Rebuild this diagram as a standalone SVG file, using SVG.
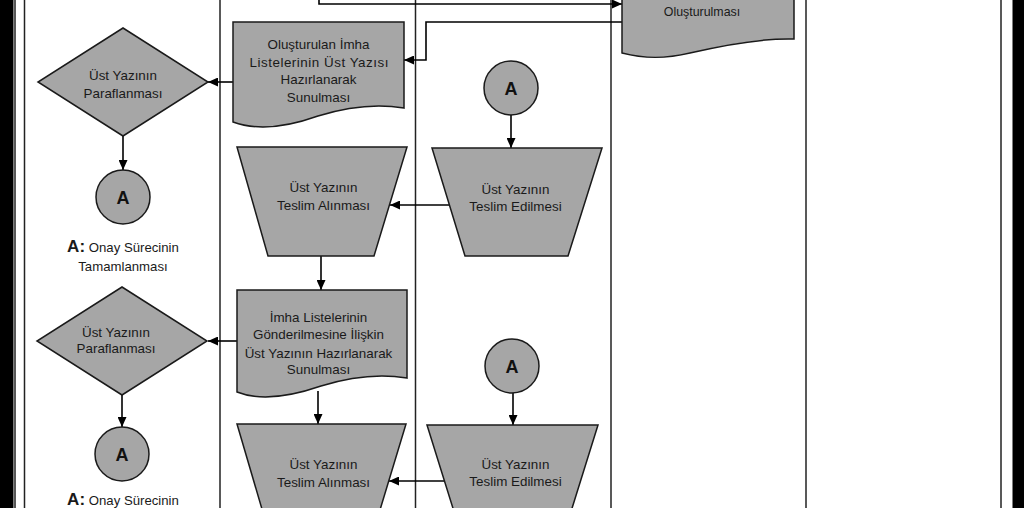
<svg xmlns="http://www.w3.org/2000/svg" width="1024" height="508" viewBox="0 0 1024 508">
<defs>
<style>
.shape{fill:#a6a6a6;stroke:#1a1a1a;stroke-width:1.5}
.lane{fill:none;stroke:#222;stroke-width:1.5}
.conn{fill:none;stroke:#000;stroke-width:1.6}
.t{font-family:"Liberation Sans",Arial,sans-serif;font-size:13.4px;fill:#1a1a1a;text-anchor:middle}
.ta{font-family:"Liberation Sans",Arial,sans-serif;font-size:18px;font-weight:bold;fill:#111;text-anchor:middle}
.lb{font-family:"Liberation Sans",Arial,sans-serif;font-size:13.2px;fill:#1a1a1a}
.lbA{font-size:17px;font-weight:bold}
</style>
<marker id="arr" viewBox="0 0 10 9" refX="10" refY="4.5" markerWidth="11" markerHeight="9" markerUnits="userSpaceOnUse" orient="auto">
<path d="M0,0 L10,4.5 L0,9 z" fill="#000"/>
</marker>
</defs>
<rect x="0" y="0" width="1024" height="508" fill="#fff"/>
<g id="frame">
<rect x="0" y="0" width="13.5" height="508" fill="#000"/>
<rect x="1012.5" y="0" width="11.5" height="508" fill="#000"/>
<line class="lane" x1="15" y1="0" x2="15" y2="508"/>
<line class="lane" x1="24.5" y1="0" x2="24.5" y2="508"/>
<line class="lane" x1="1001" y1="0" x2="1001" y2="508"/>
<line class="lane" x1="220" y1="0" x2="220" y2="508"/>
<line class="lane" x1="415.5" y1="0" x2="415.5" y2="508"/>
<line class="lane" x1="611" y1="0" x2="611" y2="508"/>
<line class="lane" x1="806" y1="0" x2="806" y2="508"/>
</g>
<g id="connectors">
<path class="conn" d="M319,0 V4 H622" marker-end="url(#arr)"/>
<path class="conn" d="M622,22 H426 V60 H404" marker-end="url(#arr)"/>
<path class="conn" d="M233,82 H208" marker-end="url(#arr)"/>
<path class="conn" d="M123,136 V170" marker-end="url(#arr)"/>
<path class="conn" d="M511,115 V148" marker-end="url(#arr)"/>
<path class="conn" d="M449,205 H390" marker-end="url(#arr)"/>
<path class="conn" d="M321,256 V290" marker-end="url(#arr)"/>
<path class="conn" d="M237,341 H208" marker-end="url(#arr)"/>
<path class="conn" d="M122,395 V427" marker-end="url(#arr)"/>
<path class="conn" d="M318,391 V424" marker-end="url(#arr)"/>
<path class="conn" d="M513,393 V425" marker-end="url(#arr)"/>
<path class="conn" d="M444,481 H389" marker-end="url(#arr)"/>
</g>
<g id="n-olusturulmasi">
<path class="shape" d="M622,-20 H794 V39 C760,38 720,46 690,53 C665,59 645,59 622,53 Z"/>
<text class="t" x="702" y="16" style="font-size:12.4px">Oluşturulması</text>
</g>
<g id="n-doc1">
<path class="shape" d="M233,22 H404 V108 C380,104 350,106 318,116 C290,126 260,132 233,122 Z"/>
<text class="t" x="318.5" y="49">Oluşturulan İmha</text>
<text class="t" x="319" y="66.5" textLength="139" lengthAdjust="spacing">Listelerinin Üst Yazısı</text>
<text class="t" x="318.5" y="84">Hazırlanarak</text>
<text class="t" x="318.5" y="102">Sunulması</text>
</g>
<g id="n-diamond1">
<path class="shape" d="M123,28 L208,82 L123,136 L38,82 Z"/>
<text class="t" x="123" y="80">Üst Yazının</text>
<text class="t" x="123" y="97.5">Paraflanması</text>
</g>
<g id="n-circle1">
<circle class="shape" cx="123" cy="197" r="27"/>
<text class="ta" x="123" y="203.5">A</text>
</g>
<g id="n-note1">
<text class="lb" x="123" y="251.5" text-anchor="middle"><tspan class="lbA">A:</tspan> Onay Sürecinin</text>
<text class="lb" x="123" y="270.5" text-anchor="middle">Tamamlanması</text>
</g>
<g id="n-circle2">
<circle class="shape" cx="511" cy="88" r="27"/>
<text class="ta" x="511" y="94.5">A</text>
</g>
<g id="n-trap1">
<path class="shape" d="M237,147 H407 L374,256 H268 Z"/>
<text class="t" x="323.5" y="192">Üst Yazının</text>
<text class="t" x="323.5" y="210">Teslim Alınması</text>
</g>
<g id="n-trap2">
<path class="shape" d="M432,148 H602 L568,256 H465 Z"/>
<text class="t" x="515.5" y="193.5">Üst Yazının</text>
<text class="t" x="515.5" y="211">Teslim Edilmesi</text>
</g>
<g id="n-doc2">
<path class="shape" d="M237,290 H407 V378 C383,374 353,376 321,386 C292,396 262,402 237,392 Z"/>
<text class="t" x="318.5" y="321.5">İmha Listelerinin</text>
<text class="t" x="318.5" y="339">Gönderilmesine İlişkin</text>
<text class="t" x="318.5" y="357.5">Üst Yazının Hazırlanarak</text>
<text class="t" x="318.5" y="374">Sunulması</text>
</g>
<g id="n-diamond2">
<path class="shape" d="M122,287 L207,341 L122,395 L37,341 Z"/>
<text class="t" x="116" y="336.5">Üst Yazının</text>
<text class="t" x="116" y="353">Paraflanması</text>
</g>
<g id="n-circle3">
<circle class="shape" cx="122" cy="454" r="27"/>
<text class="ta" x="122" y="460.5">A</text>
</g>
<g id="n-note2">
<text class="lb" x="123" y="504.5" text-anchor="middle"><tspan class="lbA">A:</tspan> Onay Sürecinin</text>
</g>
<g id="n-circle4">
<circle class="shape" cx="512" cy="366" r="27"/>
<text class="ta" x="512" y="372.5">A</text>
</g>
<g id="n-trap3">
<path class="shape" d="M237,424 H406 L373,533 H269 Z"/>
<text class="t" x="323.5" y="469">Üst Yazının</text>
<text class="t" x="323.5" y="486.5">Teslim Alınması</text>
</g>
<g id="n-trap4">
<path class="shape" d="M427,425 H598 L564,534 H461 Z"/>
<text class="t" x="515.5" y="469">Üst Yazının</text>
<text class="t" x="515.5" y="486">Teslim Edilmesi</text>
</g>
</svg>
